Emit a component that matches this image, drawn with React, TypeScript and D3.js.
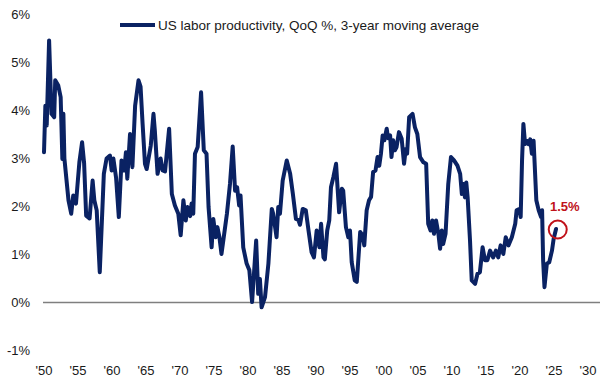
import React from "react";
import * as d3 from "d3";

const years: number[] = [
  1950.0, 1950.2, 1950.4, 1950.75, 1951.1, 1951.5, 1951.65, 1952.1, 1952.45, 1952.7, 1952.85, 1953.0,
  1953.6, 1954.0, 1954.3, 1954.7, 1955.2, 1955.6, 1955.9, 1956.2, 1956.7, 1957.15, 1957.4, 1957.75,
  1958.2, 1958.8, 1959.2, 1959.7, 1959.95, 1960.2, 1960.6, 1961.0, 1961.4, 1961.8, 1962.05, 1962.25,
  1962.65, 1963.0, 1963.4, 1963.9, 1964.2, 1964.5, 1964.85, 1965.1, 1965.7, 1966.1, 1966.3, 1966.7,
  1967.15, 1967.45, 1967.8, 1968.4, 1968.8, 1969.25, 1969.75, 1970.1, 1970.5, 1970.85, 1971.1, 1971.5,
  1971.7, 1971.95, 1972.2, 1972.6, 1973.1, 1973.5, 1973.9, 1974.2, 1974.65, 1974.9, 1975.25, 1975.5,
  1975.8, 1976.1, 1976.9, 1977.35, 1977.75, 1978.1, 1978.4, 1978.7, 1978.9, 1979.3, 1979.8, 1980.2,
  1980.6, 1981.2, 1981.5, 1981.75, 1982.0, 1982.5, 1983.0, 1983.5, 1983.7, 1984.2, 1984.45, 1984.7,
  1985.1, 1985.7, 1986.2, 1986.6, 1987.05, 1987.4, 1987.65, 1988.05, 1988.5, 1988.9, 1989.35, 1989.7,
  1990.1, 1990.5, 1990.75, 1991.1, 1991.3, 1991.65, 1991.95, 1992.2, 1992.55, 1992.95, 1993.4, 1993.8,
  1994.0, 1994.4, 1994.75, 1995.0, 1995.25, 1995.7, 1996.0, 1996.5, 1996.85, 1997.1, 1997.45, 1997.8,
  1998.1, 1998.4, 1998.75, 1999.05, 1999.3, 1999.55, 1999.8, 2000.05, 2000.4, 2000.6, 2000.9, 2001.1,
  2001.35, 2001.6, 2001.85, 2002.2, 2002.6, 2002.95, 2003.2, 2003.4, 2003.7, 2004.2, 2004.55, 2004.9,
  2005.3, 2005.8, 2006.2, 2006.5, 2006.85, 2007.1, 2007.35, 2007.65, 2008.0, 2008.25, 2008.5, 2008.7,
  2009.05, 2009.45, 2009.85, 2010.3, 2010.8, 2011.2, 2011.45, 2011.7, 2011.9, 2012.1, 2012.3, 2012.65,
  2012.9, 2013.4, 2013.75, 2014.1, 2014.5, 2014.85, 2015.2, 2015.6, 2016.05, 2016.45, 2016.8, 2017.15,
  2017.55, 2017.9, 2018.3, 2018.8, 2019.3, 2019.5, 2019.9, 2020.1, 2020.3, 2020.5, 2020.75, 2021.0,
  2021.25, 2021.5, 2021.75, 2022.0, 2022.4, 2022.75, 2023.1, 2023.25, 2023.4, 2023.6, 2023.95, 2024.3,
  2024.7, 2024.95, 2025.3,
];

const productivity: number[] = [
  3.13, 4.1, 3.69, 5.46, 3.93, 3.86, 4.63, 4.52, 4.28, 2.99, 3.93, 3.0,
  2.13, 1.85, 2.23, 2.06, 2.92, 3.34, 2.9, 1.81, 1.75, 2.54, 2.13, 1.92,
  0.63, 2.68, 3.0, 3.06, 2.75, 3.0, 2.6, 1.78, 2.96, 2.75, 3.13, 2.58,
  3.51, 2.82, 4.1, 4.63, 4.5, 3.72, 2.89, 2.78, 3.27, 3.93, 3.58, 2.68,
  3.0, 2.75, 2.73, 3.62, 2.26, 2.02, 1.85, 1.4, 2.13, 1.71, 1.99, 1.8,
  2.06, 1.85, 3.1, 3.24, 4.38, 3.17, 3.1, 1.99, 1.15, 1.74, 1.36, 1.57,
  1.36, 1.01, 1.85, 2.47, 3.25, 2.33, 2.4, 2.02, 2.23, 1.15, 0.81, 0.67,
  0.01, 1.29, 0.18, 0.49, -0.1, 0.11, 0.81, 1.95, 1.85, 1.36, 1.99, 1.85,
  2.54, 2.96, 2.68, 2.26, 1.74, 1.72, 1.62, 1.95, 1.92, 1.5, 1.05, 0.94,
  1.5, 1.15, 1.64, 0.94, 0.9, 1.5, 1.71, 2.4, 2.61, 2.89, 1.88, 2.37,
  2.33, 1.57, 1.36, 1.5, 0.84, 0.46, 0.43, 1.47, 1.4, 1.19, 1.92, 2.13,
  2.2, 2.72, 2.75, 3.03, 2.85, 3.1, 3.48, 3.38, 3.62, 3.42, 3.48, 3.03,
  3.38, 3.17, 3.24, 3.55, 3.41, 2.89, 3.2, 3.1, 3.86, 3.93, 3.65, 3.51,
  3.03, 2.92, 2.89, 1.64, 1.5, 1.71, 1.43, 1.71, 1.43, 1.12, 1.5, 1.22,
  1.43, 2.47, 3.03, 2.96, 2.85, 2.68, 2.26, 2.47, 2.19, 2.5, 2.19, 1.29,
  0.46, 0.39, 0.6, 0.63, 1.15, 0.88, 0.88, 1.08, 0.94, 1.08, 0.94, 1.19,
  1.01, 1.36, 1.19, 1.36, 1.64, 1.92, 1.95, 1.78, 2.96, 3.72, 3.3, 3.37,
  3.3, 3.4, 3.1, 3.37, 2.13, 1.92, 1.78, 1.92, 0.88, 0.32, 0.81, 0.84,
  1.08, 1.33, 1.53,
];

const yTicks: number[] = [-1, 0, 1, 2, 3, 4, 5, 6];
const xTicks: number[] = [1950, 1955, 1960, 1965, 1970, 1975, 1980, 1985, 1990, 1995, 2000, 2005, 2010, 2015, 2020, 2025, 2030];
const legendLabel = "US labor productivity, QoQ %, 3-year moving average";
const highlightYear = 2025.55;
const highlightValue = 1.52;
const highlightLabel = "1.5%";

const W = 605;
const H = 377;
const FONT = "'Liberation Sans', Arial, sans-serif";
const NAVY = "#0a2263";
const RED = "#c0121a";

export default function App() {
  const x = d3.scaleLinear().domain([1950, 2030]).range([44, 588]);
  const y = d3.scaleLinear().domain([-1, 6]).range([350.5, 14.5]);
  const pts: [number, number][] = years.map((yr, i) => [yr, productivity[i]]);
  const line = d3
    .line<[number, number]>()
    .x((d) => x(d[0]))
    .y((d) => y(d[1]));

  return (
    <svg
      width={W}
      height={H}
      style={{ position: "absolute", left: 0, top: 0, background: "#fff" }}
      fontFamily={FONT}
    >
      <rect x={0} y={0} width={W} height={H} fill="#fff" />
      {yTicks.map((t) => (
        <text key={t} x={30} y={y(t)} dy="0.35em" textAnchor="end" fontSize={13} fill="#1a1a1a">
          {`${t}%`}
        </text>
      ))}
      {xTicks.map((t) => (
        <text key={t} x={x(t)} y={375} textAnchor="middle" fontSize={13} fill="#1a1a1a">
          {`'${String(t % 100).padStart(2, "0")}`}
        </text>
      ))}
      <line x1={43} x2={600} y1={y(0)} y2={y(0)} stroke="#7f7f7f" strokeWidth={1.5} />
      <path
        d={line(pts) || ""}
        fill="none"
        stroke={NAVY}
        strokeWidth={4}
        strokeLinejoin="round"
        strokeLinecap="round"
      />
      <circle cx={x(highlightYear)} cy={y(highlightValue)} r={9} fill="none" stroke={RED} strokeWidth={2} />
      <text x={x(highlightYear) + 7} y={211} textAnchor="middle" fontSize={13} fontWeight="bold" fill={RED}>
        {highlightLabel}
      </text>
      <line x1={120} x2={155} y1={25} y2={25} stroke={NAVY} strokeWidth={4} />
      <text x={158} y={25} dy="0.35em" fontSize={13.5} fill="#1a1a1a">
        {legendLabel}
      </text>
    </svg>
  );
}
